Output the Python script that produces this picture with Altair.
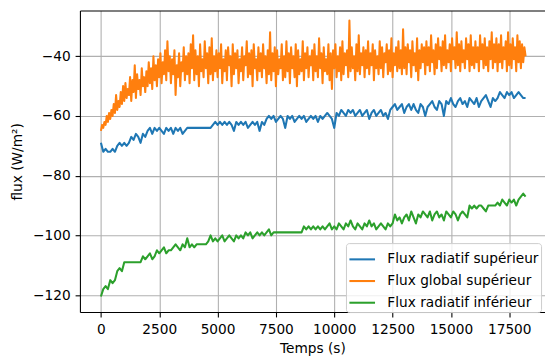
import altair as alt
import pandas as pd

STEP = 100    # seconds between samples (radiatif series)
STEP_G = 50   # seconds between samples (global series)

series_names = ["Flux radiatif supérieur", "Flux global supérieur", "Flux radiatif inférieur"]
series_colors = ["#1f77b4", "#ff7f0e", "#2ca02c"]
x_ticks = [0, 2500, 5000, 7500, 10000, 12500, 15000, 17500]
y_ticks = [-120, -100, -80, -60, -40]

blue = [
    -69, -72, -71, -72, -72, -71, -72, -70, -69, -70,
    -69, -70, -69, -67, -68, -66, -67, -69, -66, -67,
    -65, -64, -66, -64, -65, -64, -65, -66, -64, -65,
    -64, -66, -64, -65, -64, -66, -65, -64, -64, -64,
    -64, -64, -64, -64, -64, -64, -64, -64, -63, -62,
    -63, -62, -63, -62, -63, -62, -63, -65, -62, -63,
    -62, -63, -62, -64, -63, -62, -63, -62, -65, -62,
    -63, -61, -60, -61, -60, -62, -61, -60, -61, -64,
    -60, -61, -60, -62, -61, -60, -61, -60, -62, -61,
    -60, -61, -60, -62, -60, -61, -60, -59, -60, -61,
    -64, -59, -60, -58, -59, -60, -58, -59, -58, -60,
    -59, -58, -60, -59, -58, -61, -59, -58, -60, -59,
    -58, -60, -59, -61, -58, -57, -56, -58, -57, -56,
    -59, -57, -56, -58, -56, -58, -59, -56, -57, -60,
    -57, -56, -55, -57, -58, -55, -56, -60, -55, -56,
    -54, -56, -57, -55, -54, -56, -55, -57, -54, -55,
    -56, -54, -57, -55, -54, -53, -55, -57, -54, -55,
    -54, -52, -53, -54, -52, -53, -52, -54, -53, -52,
    -53, -54, -54,
]

orange = [
    -65, -63, -64, -62, -63, -60, -62, -59, -61, -58,
    -60, -56, -59, -53, -58, -55, -57, -52, -56, -50,
    -55, -49, -54, -51, -53, -47, -55, -48, -52, -43,
    -54, -46, -51, -48, -53, -44, -50, -47, -52, -45,
    -50, -42, -49, -44, -51, -40, -48, -43, -50, -41,
    -47, -39, -49, -42, -46, -38, -48, -35, -45, -40,
    -49, -41, -46, -38, -53, -43, -47, -39, -50, -42,
    -45, -37, -48, -40, -46, -39, -49, -36, -44, -33,
    -48, -38, -46, -40, -50, -36, -45, -41, -47, -35,
    -44, -39, -49, -37, -46, -34, -48, -40, -45, -38,
    -47, -39, -44, -36, -49, -41, -45, -38, -48, -37,
    -43, -40, -50, -36, -46, -39, -44, -38, -49, -41,
    -45, -37, -48, -40, -43, -35, -47, -39, -46, -38,
    -50, -36, -44, -41, -48, -37, -45, -39, -47, -36,
    -44, -40, -49, -38, -46, -32, -48, -39, -45, -37,
    -50, -38, -46, -41, -44, -36, -48, -40, -47, -35,
    -45, -39, -49, -37, -44, -40, -47, -36, -50, -38,
    -46, -41, -45, -35, -48, -39, -44, -37, -47, -40,
    -43, -38, -48, -36, -45, -40, -47, -34, -44, -39,
    -49, -37, -45, -41, -46, -36, -48, -39, -51, -38,
    -44, -36, -47, -40, -45, -37, -48, -35, -46, -39,
    -43, -38, -47, -28, -45, -37, -44, -40, -48, -36,
    -45, -33, -46, -39, -43, -37, -47, -38, -44, -35,
    -46, -39, -43, -36, -48, -38, -44, -40, -46, -35,
    -44, -37, -47, -39, -42, -36, -46, -38, -45, -34,
    -47, -39, -43, -37, -45, -35, -44, -38, -46, -31,
    -44, -37, -46, -36, -42, -38, -47, -35, -43, -39,
    -45, -34, -48, -38, -44, -36, -42, -37, -46, -35,
    -43, -37, -45, -33, -42, -38, -46, -36, -44, -34,
    -41, -37, -45, -35, -43, -33, -44, -38, -42, -36,
    -45, -34, -41, -37, -44, -32, -43, -36, -45, -35,
    -42, -38, -44, -34, -41, -36, -45, -33, -43, -37,
    -44, -35, -42, -37, -45, -33, -41, -36, -44, -34,
    -43, -37, -45, -35, -41, -32, -44, -36, -42, -34,
    -45, -36, -42, -33, -44, -37, -41, -35, -45, -32,
    -43, -36, -44, -34, -41, -37, -45, -33, -42, -35,
    -44, -36, -42, -37, -40,
]

green = [
    -120.5, -118, -117, -118, -115, -116, -115, -112, -111, -112,
    -109, -109, -109, -109, -109, -109, -109, -109, -107, -108,
    -107, -106, -108, -107, -105, -106, -105, -104, -106, -105,
    -105, -104, -103, -104, -105, -103, -104, -101, -104, -103,
    -104, -103, -103, -103, -103, -103, -102, -100, -102, -101,
    -102, -101, -100, -102, -101, -100, -101, -102, -100, -101,
    -100, -101, -99, -100, -99, -101, -100, -99, -100, -99,
    -100, -99, -98, -100, -99, -99, -99, -99, -99, -99,
    -99, -99, -99, -99, -99, -99, -99, -97, -98, -97,
    -98, -97, -98, -97, -98, -97, -98, -97, -96, -98,
    -97, -98, -96, -97, -98, -96, -97, -95, -97, -98,
    -96, -97, -98, -96, -97, -95, -97, -96, -98, -97,
    -96, -97, -98, -96, -97, -96, -93, -95, -94, -96,
    -94, -93, -95, -92, -94, -96, -93, -94, -92, -93,
    -94, -92, -95, -93, -92, -94, -93, -95, -92, -93,
    -94, -92, -93, -95, -93, -92, -93, -94, -90, -91,
    -90, -91, -90, -90, -91, -92, -90, -90, -90, -90,
    -89, -90, -88, -89, -90, -88, -89, -88, -90, -88,
    -87, -86, -87,
]

rows = []
for k, (name, vals, step) in enumerate(zip(series_names, [blue, orange, green], [STEP, STEP_G, STEP])):
    for i, v in enumerate(vals):
        rows.append({"t": i * step, "flux": v, "serie": name, "k": k})
df = pd.DataFrame(rows)

FONT = "DejaVu Sans"
FS = 13.9

x_scale = alt.Scale(domain=[-900, 19033], nice=False, zero=False)
y_scale = alt.Scale(domain=[-125.7, -24.7], nice=False, zero=False)

lines = alt.Chart(df).mark_line(strokeWidth=2.08, strokeJoin="round", clip=True).encode(
    x=alt.X("t:Q", scale=x_scale,
            axis=alt.Axis(values=x_ticks, format="d", title="Temps (s)", orient="bottom",
                          labelPadding=6, titlePadding=5)),
    y=alt.Y("flux:Q", scale=y_scale,
            axis=alt.Axis(values=y_ticks, format="d", title="flux (W/m²)", orient="left",
                          labelPadding=5, titlePadding=8)),
    color=alt.Color("serie:N",
                    scale=alt.Scale(domain=series_names, range=series_colors),
                    legend=alt.Legend(title=None, orient="none", legendX=270, legendY=236,
                                      symbolType="stroke", symbolSize=676, symbolStrokeWidth=2.08,
                                      labelFontSize=FS, labelFont=FONT, labelColor="black",
                                      padding=2, rowPadding=-5, labelOffset=11, labelLimit=0,
                                      fillColor="rgba(255,255,255,0.8)", strokeColor="#cccccc",
                                      cornerRadius=3)),
    detail="k:O",
    order=alt.Order("t:Q"),
)

top_frame = alt.Chart(df).mark_line(opacity=0).encode(
    x=alt.X("t:Q", scale=x_scale,
            axis=alt.Axis(orient="top", labels=False, ticks=False, grid=False, domain=True, title=None)),
    y=alt.Y("flux:Q", scale=y_scale),
    detail="k:O",
)

chart = alt.layer(lines, top_frame).resolve_axis(x="independent").properties(
    width=472, height=306,
    autosize=alt.AutoSizeParams(type="none"),
    padding={"left": 73, "top": 0, "right": 0, "bottom": 45},
).configure_view(stroke=None).configure_axis(
    labelFont=FONT, labelFontSize=FS, labelColor="black",
    titleFont=FONT, titleFontSize=FS, titleFontWeight="normal", titleColor="black",
    tickColor="black", tickSize=4.9, tickWidth=1.1,
    domainColor="black", domainWidth=1.1,
    gridColor="#b0b0b0", gridWidth=1.1, gridOpacity=1,
)

chart.save("out.html", embed_options={"renderer": "svg", "actions": False})
